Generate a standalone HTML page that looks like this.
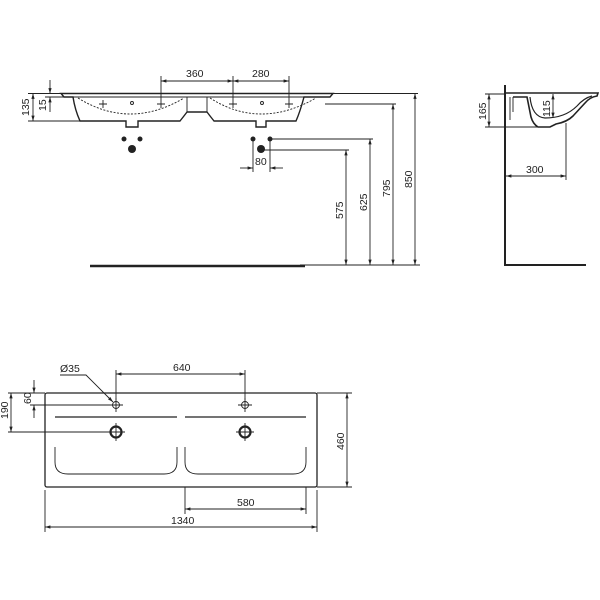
<!DOCTYPE html>
<html><head><style>body{margin:0;background:#fff}svg{display:block}text{font-family:"Liberation Sans",sans-serif;font-size:10.5px;fill:#222}</style></head>
<body>
<svg width="600" height="600" viewBox="0 0 600 600" xmlns="http://www.w3.org/2000/svg">
<defs>
<marker id="a" viewBox="0 0 10 10" refX="10" refY="5" markerWidth="6" markerHeight="6" orient="auto-start-reverse"><path d="M0,2 L10,5 L0,8z" fill="#222"/></marker>
</defs>
<g stroke="#222" fill="none" stroke-width="0.9">
<!-- front view -->
<path d="M61,93.5 L333,93.5 L330,97 L304,97 Q300,112 296,121 L266,121 L266,127 L256,127 L256,121 L214,121 Q210,116 207,112 L187,112 Q184,116 180,121 L138,121 L138,127 L126,127 L126,121 L80,121 Q75,110 73,97 L64,97 Z" stroke-width="1.4"/>
<path d="M187,97 L187,112 M207,97 L207,112 M73,97 L330,97"/>
<path d="M78,98 Q130,130 184,98 M210,98 Q260,130 316,98" stroke-dasharray="2,1.5"/>
<path d="M99,104h8M103,100v8M157,104h8M161,100v8M229,104h8M233,100v8M285,104h8M289,100v8"/>
<circle cx="132" cy="103" r="1.5"/><circle cx="262" cy="103" r="1.5"/>
<path d="M161,100V76M233,100V76M289,100V76"/>
<line x1="161" y1="81" x2="233" y2="81" marker-start="url(#a)" marker-end="url(#a)"/>
<line x1="233" y1="81" x2="289" y2="81" marker-start="url(#a)" marker-end="url(#a)"/>
<path d="M28,93.5H61M28,121H80M45,97H73"/>
<line x1="33" y1="93.5" x2="33" y2="121" marker-start="url(#a)" marker-end="url(#a)"/>
<line x1="50" y1="80" x2="50" y2="93.5" marker-end="url(#a)"/>
<line x1="50" y1="112" x2="50" y2="97" marker-end="url(#a)"/>
<path d="M253,139V172M270,139V172"/>
<line x1="240" y1="168" x2="253" y2="168" marker-end="url(#a)"/>
<line x1="283" y1="168" x2="270" y2="168" marker-end="url(#a)"/>
<path d="M270,139H373M261,150H349M325,104H396M333,93.5H418M300,265H420"/>
<line x1="346" y1="150" x2="346" y2="265" marker-start="url(#a)" marker-end="url(#a)"/>
<line x1="370" y1="139" x2="370" y2="265" marker-start="url(#a)" marker-end="url(#a)"/>
<line x1="393" y1="104" x2="393" y2="265" marker-start="url(#a)" marker-end="url(#a)"/>
<line x1="415" y1="93.5" x2="415" y2="265" marker-start="url(#a)" marker-end="url(#a)"/>
<path d="M90,266H305" stroke-width="2.5"/>
<!-- side view -->
<path d="M505,85V265H586" stroke-width="2"/>
<path d="M505,93H598L597,96Q590,97 585,103L573,116Q567,122 556,124L550,127H538Q533,124 531,117L527,97H513" stroke-width="1.6"/>
<path d="M530,97Q532,117 545,118Q565,118 577,106Q584,98 592,96" stroke-width="1.2"/>
<path d="M513,97V112M510,97V120"/>
<path d="M485,94H505M485,127H540M566,123V180"/>
<line x1="489" y1="94" x2="489" y2="127" marker-start="url(#a)" marker-end="url(#a)"/>
<line x1="553" y1="94" x2="553" y2="118" marker-start="url(#a)" marker-end="url(#a)"/>
<line x1="506" y1="176" x2="566" y2="176" marker-start="url(#a)" marker-end="url(#a)"/>
<!-- plan view -->
<rect x="45" y="393" width="272" height="94" rx="2" stroke-width="1.3"/>
<path d="M55,417H177M185,417H306" stroke-width="1.3"/>
<path d="M55,447V462Q55,474 68,474H164Q177,474 177,462V447M185,447V462Q185,474 198,474H293Q306,474 306,462V447"/>
<circle cx="116" cy="405" r="3.5"/><circle cx="245" cy="405" r="3.5"/>
<circle cx="116" cy="432" r="5.5" stroke-width="2.2"/><circle cx="245" cy="432" r="5.5" stroke-width="2.2"/>
<path d="M109,405h14M116,398v14M238,405h14M245,398v14M107,432h18M116,423v18M236,432h18M245,423v18"/>
<path d="M116,400V370M245,400V370M30,405H112M8,432H110M317,393H352M317,487H352M45,490V532M317,490V532M185,487V514M306,487V514"/>
<line x1="116" y1="374" x2="245" y2="374" marker-start="url(#a)" marker-end="url(#a)"/>
<line x1="34" y1="380" x2="34" y2="393" marker-end="url(#a)"/>
<line x1="34" y1="418" x2="34" y2="405" marker-end="url(#a)"/>
<line x1="11" y1="393" x2="11" y2="432" marker-start="url(#a)" marker-end="url(#a)"/>
<line x1="347" y1="393" x2="347" y2="487" marker-start="url(#a)" marker-end="url(#a)"/>
<line x1="185" y1="509" x2="306" y2="509" marker-start="url(#a)" marker-end="url(#a)"/>
<line x1="45" y1="527" x2="317" y2="527" marker-start="url(#a)" marker-end="url(#a)"/>
<path d="M60,375H86L113,402" marker-end="url(#a)"/>
<path d="M8,393H45"/>
</g>
<g fill="#222">
<circle cx="124" cy="139" r="2.5"/><circle cx="140" cy="139" r="2.5"/><circle cx="132" cy="149" r="4"/>
<circle cx="253" cy="139" r="2.5"/><circle cx="270" cy="139" r="2.5"/><circle cx="261" cy="149" r="4"/>
</g>
<text x="186" y="77">360</text><text x="252" y="77">280</text>
<text x="255" y="165">80</text>
<text transform="translate(29,116) rotate(-90)">135</text>
<text transform="translate(46,111) rotate(-90)">15</text>
<text transform="translate(343,219) rotate(-90)">575</text>
<text transform="translate(367,211) rotate(-90)">625</text>
<text transform="translate(390,197) rotate(-90)">795</text>
<text transform="translate(412,188) rotate(-90)">850</text>
<text transform="translate(486,120) rotate(-90)">165</text>
<text transform="translate(550,117) rotate(-90)">115</text>
<text x="526" y="173">300</text>
<text x="60" y="372">Ø35</text>
<text x="173" y="371">640</text>
<text transform="translate(31,404) rotate(-90)">60</text>
<text transform="translate(8,419) rotate(-90)">190</text>
<text transform="translate(344,450) rotate(-90)">460</text>
<text x="237" y="506">580</text>
<text x="171" y="524">1340</text>
</svg>
</body></html>
